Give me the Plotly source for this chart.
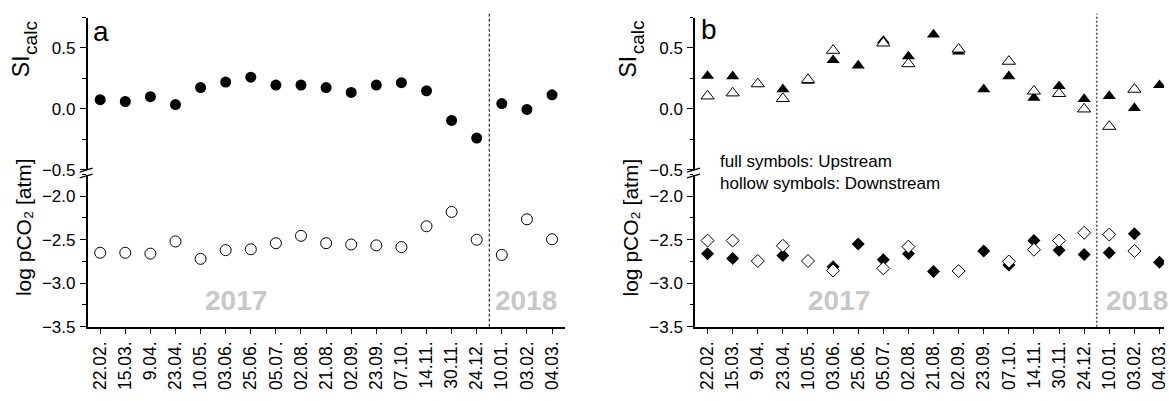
import plotly.graph_objects as go

# Sampling dates (Feb 2017 - Mar 2018)
dates = ["22.02.", "15.03.", "9.04.", "23.04.", "10.05.", "03.06.", "25.06.",
         "05.07.", "02.08.", "21.08.", "02.09.", "23.09.", "07.10.", "14.11.",
         "30.11.", "24.12.", "10.01.", "03.02.", "04.03."]

# Panel a: calcite saturation index and log pCO2
si_a = [0.075, 0.06, 0.10, 0.035, 0.175, 0.22, 0.26, 0.195, 0.195, 0.175,
        0.135, 0.195, 0.215, 0.148, -0.095, -0.24, 0.043, -0.005, 0.115]
pco2_a = [-2.65, -2.65, -2.66, -2.52, -2.72, -2.62, -2.61, -2.54, -2.455, -2.54,
          -2.555, -2.565, -2.585, -2.345, -2.18, -2.50, -2.675, -2.265, -2.495]

# Panel b: upstream (full) and downstream (hollow) sites
si_b_up = [0.27, 0.267, None, 0.16, 0.23, 0.40, 0.355, 0.56, 0.43, 0.61,
           0.47, 0.16, 0.267, 0.09, 0.186, 0.08, 0.105, 0.006, 0.194]
si_b_down = [0.105, 0.13, 0.205, 0.084, 0.24, 0.48, None, 0.54, 0.37, None,
             0.49, None, 0.39, 0.145, 0.125, -0.002, -0.145, 0.16, None]
pco2_b_up = [-2.66, -2.715, None, -2.68, None, -2.81, -2.55, -2.73, -2.66, -2.865,
             None, -2.63, -2.79, -2.51, -2.62, -2.67, -2.65, -2.43, -2.76]
pco2_b_down = [-2.51, -2.51, -2.745, -2.57, -2.745, -2.855, None, -2.83, -2.58, None,
               -2.86, None, -2.75, -2.615, -2.51, -2.42, -2.44, -2.63, None]

year_labels = ["2017", "2018"]
legend_lines = ["full symbols: Upstream", "hollow symbols: Downstream"]

W, H = 1169, 401
FONT = "Liberation Sans, Arial, sans-serif"


def fx(p):
    return p / W


def fy(p):
    return 1 - p / H


idx = list(range(len(dates)))

fig = go.Figure()

# ---- panel a ----
fig.add_trace(go.Scatter(x=idx, y=si_a, mode="markers", xaxis="x", yaxis="y",
                         marker=dict(symbol="circle", size=11, color="black")))
fig.add_trace(go.Scatter(x=idx, y=pco2_a, mode="markers", xaxis="x", yaxis="y2",
                         marker=dict(symbol="circle", size=11, color="white",
                                     line=dict(color="black", width=1))))

# ---- panel b ----
fig.add_trace(go.Scatter(x=idx, y=si_b_up, mode="markers", xaxis="x2", yaxis="y3",
                         marker=dict(symbol="triangle-up", size=11.5, color="black")))
fig.add_trace(go.Scatter(x=idx, y=si_b_down, mode="markers", xaxis="x2", yaxis="y3",
                         marker=dict(symbol="triangle-up", size=11.5, color="white",
                                     line=dict(color="black", width=1))))
fig.add_trace(go.Scatter(x=idx, y=pco2_b_up, mode="markers", xaxis="x2", yaxis="y4",
                         marker=dict(symbol="diamond", size=10, color="black")))
fig.add_trace(go.Scatter(x=idx, y=pco2_b_down, mode="markers", xaxis="x2", yaxis="y4",
                         marker=dict(symbol="diamond", size=10, color="white",
                                     line=dict(color="black", width=1))))

tickfont = dict(family=FONT, size=17, color="black")

top_dom = [fy(174), fy(18)]
bot_dom = [fy(335), fy(179)]


def yax(dom, rng, major, minor, anchor):
    return dict(domain=dom, range=rng, tickvals=major, tickformat=".1f",
                ticks="outside", ticklen=6, tickwidth=1.3, tickcolor="black",
                showline=True, linewidth=1.5, linecolor="black",
                showgrid=False, zeroline=False, anchor=anchor,
                tickfont=tickfont, fixedrange=True, ticklabelstandoff=1,
                minor=dict(tickvals=minor, ticks="outside", ticklen=3.5,
                           tickwidth=1.3, tickcolor="black", showgrid=False))


def xax(dom, rng, anchor):
    return dict(domain=dom, range=rng, tickvals=idx, ticktext=dates,
                tickangle=-90, ticks="outside", ticklen=6, tickwidth=1.3,
                tickcolor="black", showline=True, linewidth=1.5,
                linecolor="black", showgrid=False, zeroline=False,
                anchor=anchor, tickfont=dict(family=FONT, size=17.5, color="black"),
                ticklabeloverflow="allow", fixedrange=True)


top_major = [-0.5, 0.0, 0.5]
top_minor = [-0.25, 0.25, 0.75]
bot_major = [-3.5, -3.0, -2.5, -2.0]
bot_minor = [-3.25, -2.75, -2.25, -1.75]

fig.update_layout(
    width=W, height=H,
    margin=dict(l=0, r=0, t=0, b=0),
    paper_bgcolor="white", plot_bgcolor="white",
    showlegend=False,
    font=dict(family=FONT, color="black"),
    xaxis=xax([fx(88), fx(567)], [-0.5, 18.5], "y2"),
    xaxis2=xax([fx(698), 1.0], [-0.5, 18.18], "y4"),
    yaxis=yax(top_dom, [-0.5, 0.75], top_major, top_minor, "x"),
    yaxis2=yax(bot_dom, [-3.5, -1.75], bot_major, bot_minor, "x"),
    yaxis3=yax(top_dom, [-0.5, 0.75], top_major, top_minor, "x2"),
    yaxis4=yax(bot_dom, [-3.5, -1.75], bot_major, bot_minor, "x2"),
)

shapes = []
# year boundary between 24.12. and 10.01.
shapes.append(dict(type="line", xref="x", yref="paper", x0=15.5, x1=15.5,
                   y0=fy(335), y1=fy(12),
                   line=dict(color="black", width=1, dash="3px,2px")))
shapes.append(dict(type="line", xref="x2", yref="paper", x0=15.5, x1=15.5,
                   y0=fy(335), y1=fy(14),
                   line=dict(color="#555555", width=1.5, dash="2px,2px")))
# axis break marks
for ax_px in (88, 698):
    for y_off in (0, 6):
        shapes.append(dict(type="line", xref="paper", yref="paper",
                           x0=fx(ax_px - 8), x1=fx(ax_px + 5),
                           y0=fy(176.5 + y_off), y1=fy(172.5 + y_off),
                           line=dict(color="black", width=1.3)))
fig.update_layout(shapes=shapes)

ann = []
# rotated axis titles; the "calc" subscript is set as its own smaller,
# right-shifted piece so it sits below the baseline of the rotated "SI"
for off in (0, 610):
    ann.append(dict(xref="paper", yref="paper", x=fx(21 + off), y=fy(68), text="SI",
                    textangle=-90, showarrow=False,
                    font=dict(family=FONT, size=23, color="black"),
                    xanchor="center", yanchor="middle"))
    ann.append(dict(xref="paper", yref="paper", x=fx(30.5 + off), y=fy(38.5), text="calc",
                    textangle=-90, showarrow=False,
                    font=dict(family=FONT, size=19, color="black"),
                    xanchor="center", yanchor="middle"))
    ann.append(dict(xref="paper", yref="paper", x=fx(23 + off), y=fy(233),
                    text="log pCO\u2082 [atm]", textangle=-90, showarrow=False,
                    font=dict(family=FONT, size=21, color="black"),
                    xanchor="center", yanchor="middle"))

# panel letters
ann.append(dict(xref="paper", yref="paper", x=fx(91), y=fy(32), text="a",
                showarrow=False, font=dict(family=FONT, size=28, color="black"),
                xanchor="left", yanchor="middle"))
ann.append(dict(xref="paper", yref="paper", x=fx(702), y=fy(30), text="b",
                showarrow=False, font=dict(family=FONT, size=28, color="black"),
                xanchor="left", yanchor="middle"))

# year labels
year_font = dict(family=FONT, size=28, color="#c8c8c8", weight="bold")
for xr, yr, pos in (("x", "y2", (5.4, 16.95)), ("x2", "y4", (5.22, 17.1))):
    for label, xv in zip(year_labels, pos):
        ann.append(dict(xref=xr, yref=yr, x=xv, y=-3.2, text=label,
                        showarrow=False, font=year_font,
                        xanchor="center", yanchor="middle"))

# symbol key in panel b
for line, ypx in zip(legend_lines, (166, 188)):
    ann.append(dict(xref="paper", yref="paper", x=fx(721), y=fy(ypx), text=line,
                    showarrow=False, font=dict(family=FONT, size=17, color="black"),
                    xanchor="left", yanchor="middle"))

fig.update_layout(annotations=ann)

fig.write_html("out.html")
